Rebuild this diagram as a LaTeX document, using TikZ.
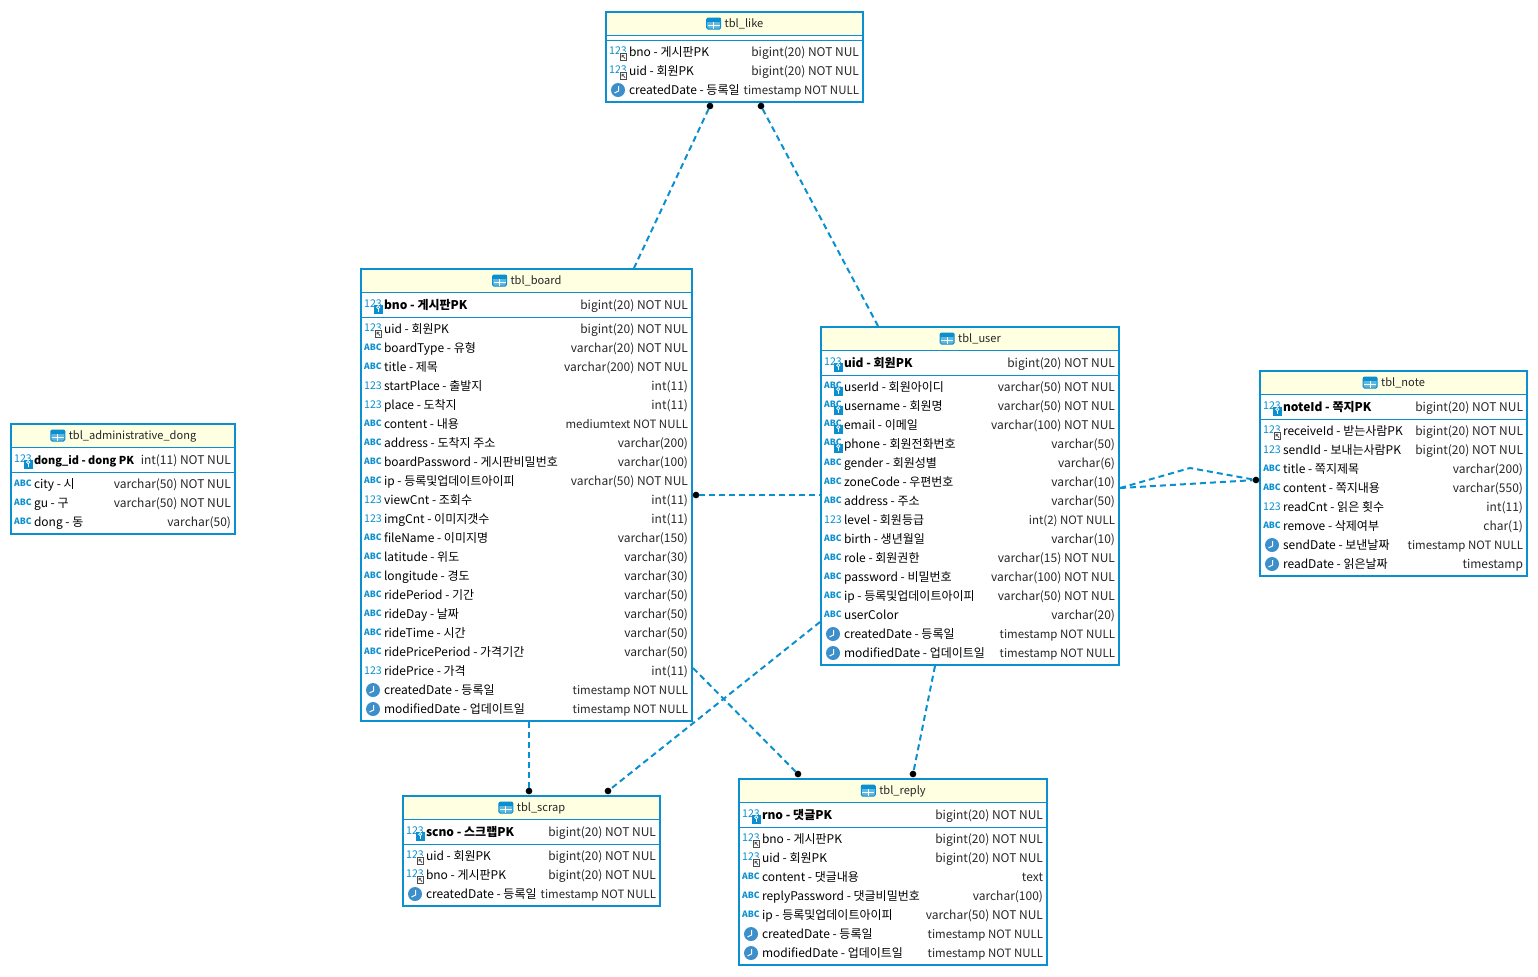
\documentclass[tikz,border=0pt]{standalone}
\usepackage{fontspec}
\setmainfont{Noto Sans CJK KR}
\usepackage{xcolor}
\usetikzlibrary{positioning,calc}

\definecolor{tblblue}{HTML}{0A90D0}
\definecolor{tblhead}{HTML}{FFFFE1}
\definecolor{clockblue}{HTML}{3D8FCB}

\newcommand{\fullnull}[1]{{\fontsize{8.6}{11}\selectfont #1}}
\newcommand{\ertable}[7]{%
    \node[headbox, minimum width={(#4-#2)*0.75pt}] (#1_head) at (#2,#3) {};
    \node[tblbox, minimum width={(#4-#2)*0.75pt}, minimum height={(#5-#3)*0.75pt}] (#1) at (#2,#3) {};
    \node[titletext] (#1_title) at ($(#1.north)+(9.5,12)$) {#6};
    \pic at ($(#1_title.west)+(-11,-0.5)$) {ictable};
    \draw[tblrule] ($(#1.north west)+(0,23)$) -- ($(#1.north east)+(0,23)$);
    \draw[tblrule] ($(#1.north west)+(0,#7)$) -- ($(#1.north east)+(0,#7)$);
}
\newcommand{\erkey}[4]{%
    \pic at ($(#1.north west)+(12,36)$) {#2};
    \node[keytext] (#1_key) at ($(#1.north west)+(23,40)$) {#3};
    \node[typetext] (#1_keytype) at ($(#1.north east)+(-4,40)$) {#4};
}
\newcommand{\ercolumns}[3]{%
    \foreach \ico/\lab/\typ [count=\i] in {#3} {
        \pgfmathsetmacro\yy{#2+19*(\i-1)}
        \edef\doicon{\noexpand\pic at ($(#1.north west)+(12,\yy)$) {\ico};}
        \doicon
        \node[coltext] (#1_col\i) at ($(#1.north west)+(23,\yy+4)$) {\lab};
        \node[typetext] (#1_type\i) at ($(#1.north east)+(-4,\yy+4)$) {\typ};
    }
}

\begin{document}
\begin{tikzpicture}[
        x=0.75pt,y=-0.75pt,
        every node/.style={inner sep=0pt,outer sep=0pt},
        tblbox/.style={rectangle,draw=tblblue,line width=1.5pt,anchor=north west},
        headbox/.style={rectangle,fill=tblhead,minimum height=17.25pt,anchor=north west},
        tblrule/.style={draw=tblblue,line width=0.75pt},
        titletext/.style={font=\fontsize{8.3}{11}\selectfont,text=black!85},
        coltext/.style={font=\fontsize{9}{11}\selectfont,text=black,anchor=base west},
        keytext/.style={font=\fontsize{9}{11}\selectfont\bfseries,text=black,anchor=base west},
        typetext/.style={font=\fontsize{9}{11}\selectfont,text=black!85,anchor=base east},
        icontext/.style={font=\fontsize{8}{9}\selectfont,text=tblblue},
        iconbold/.style={font=\fontsize{6.5}{7}\selectfont\bfseries,text=tblblue},
        fkdot/.style={circle,fill=black,minimum size=5pt},
        relline/.style={draw=tblblue,line width=1.5pt,dash pattern=on 4.5pt off 3pt},
        ictable/.pic={
            \fill[tblblue!65,rounded corners=1pt] (-7,-5.5) rectangle (7,5.5);
            \fill[tblblue] (-7,-5.5) rectangle (7,-2);
            \draw[tblblue,line width=0.75pt,rounded corners=1pt] (-7,-5.5) rectangle (7,5.5);
            \draw[white,line width=0.75pt] (-6,1.5) -- (6,1.5);
            \draw[white,line width=0.75pt] (0,-1.5) -- (0,5);
        },
        icnum/.pic={\node[icontext] at (0,-0.5) {123};},
        icabc/.pic={\node[iconbold] at (0,-0.5) {ABC};},
        ickeybadge/.pic={
            \fill[tblblue] (1,-0.5) rectangle (9.5,8.5);
            \draw[white,line width=0.6pt] (5.2,2.2) circle (1.6);
            \draw[white,line width=0.6pt] (5.2,3.8) -- (5.2,7);
        },
        icpk/.pic={\node[icontext] at (0,-1) {123}; \pic at (0,0) {ickeybadge};},
        icabckey/.pic={\node[iconbold] at (0,-2) {ABC}; \pic at (0,0) {ickeybadge};},
        icfk/.pic={
            \node[icontext] at (0,-1) {123};
            \fill[white] (1,0) rectangle (9.5,8.5);
            \draw[black!70,line width=0.6pt] (2.5,1.5) rectangle (8.5,8);
            \draw[black!70,line width=0.6pt] (7,6.5) -- (4,3.2) (4,5.5) -- (4,3.2) -- (6.3,3.2);
        },
        icclock/.pic={
            \fill[clockblue] (0,0) circle (7);
            \draw[white,line width=0.75pt] (0.5,-4) -- (0.5,1) -- (-3.5,3);
        }
    ]
        \useasboundingbox (0,0) rectangle (1538,976);

        % tables
        \ertable{like}{606}{12}{863}{102}{tbl\_like}{28}
        \ercolumns{like}{40}{icfk/bno - 게시판PK/bigint(20) NOT NUL,
            icfk/uid - 회원PK/bigint(20) NOT NUL,
            icclock/createdDate - 등록일/\fullnull{timestamp NOT NULL}}

        \ertable{board}{361}{269}{692}{721}{tbl\_board}{48}
        \erkey{board}{icpk}{bno - 게시판PK}{bigint(20) NOT NUL}
        \ercolumns{board}{60}{icfk/uid - 회원PK/bigint(20) NOT NUL,
            icabc/boardType - 유형/varchar(20) NOT NUL,
            icabc/title - 제목/varchar(200) NOT NUL,
            icnum/startPlace - 출발지/int(11),
            icnum/place - 도착지/int(11),
            icabc/content - 내용/\fullnull{mediumtext NOT NULL},
            icabc/address - 도착지 주소/varchar(200),
            icabc/boardPassword - 게시판비밀번호/varchar(100),
            icabc/ip - 등록및업데이트아이피/varchar(50) NOT NUL,
            icnum/viewCnt - 조회수/int(11),
            icnum/imgCnt - 이미지갯수/int(11),
            icabc/fileName - 이미지명/varchar(150),
            icabc/latitude - 위도/varchar(30),
            icabc/longitude - 경도/varchar(30),
            icabc/ridePeriod - 기간/varchar(50),
            icabc/rideDay - 날짜/varchar(50),
            icabc/rideTime - 시간/varchar(50),
            icabc/ridePricePeriod - 가격기간/varchar(50),
            icnum/ridePrice - 가격/int(11),
            icclock/createdDate - 등록일/\fullnull{timestamp NOT NULL},
            icclock/modifiedDate - 업데이트일/\fullnull{timestamp NOT NULL}}

        \ertable{user}{821}{327}{1119}{665}{tbl\_user}{48}
        \erkey{user}{icpk}{uid - 회원PK}{bigint(20) NOT NUL}
        \ercolumns{user}{60}{icabckey/userId - 회원아이디/varchar(50) NOT NUL,
            icabckey/username - 회원명/varchar(50) NOT NUL,
            icabckey/email - 이메일/varchar(100) NOT NUL,
            icabckey/phone - 회원전화번호/varchar(50),
            icabc/gender - 회원성별/varchar(6),
            icabc/zoneCode - 우편번호/varchar(10),
            icabc/address - 주소/varchar(50),
            icnum/level - 회원등급/\fullnull{int(2) NOT NULL},
            icabc/birth - 생년월일/varchar(10),
            icabc/role - 회원권한/varchar(15) NOT NUL,
            icabc/password - 비밀번호/varchar(100) NOT NUL,
            icabc/ip - 등록및업데이트아이피/varchar(50) NOT NUL,
            icabc/userColor/varchar(20),
            icclock/createdDate - 등록일/\fullnull{timestamp NOT NULL},
            icclock/modifiedDate - 업데이트일/\fullnull{timestamp NOT NULL}}

        \ertable{note}{1260}{371}{1527}{576}{tbl\_note}{48}
        \erkey{note}{icpk}{noteId - 쪽지PK}{bigint(20) NOT NUL}
        \ercolumns{note}{60}{icfk/receiveId - 받는사람PK/bigint(20) NOT NUL,
            icnum/sendId - 보내는사람PK/bigint(20) NOT NUL,
            icabc/title - 쪽지제목/varchar(200),
            icabc/content - 쪽지내용/varchar(550),
            icnum/readCnt - 읽은 횟수/int(11),
            icabc/remove - 삭제여부/char(1),
            icclock/sendDate - 보낸날짜/\fullnull{timestamp NOT NULL},
            icclock/readDate - 읽은날짜/timestamp}

        \ertable{dong}{11}{424}{235}{534}{tbl\_administrative\_dong}{48}
        \erkey{dong}{icpk}{\fontsize{8.2}{11}\selectfont dong\_id - dong PK}{int(11) NOT NUL}
        \ercolumns{dong}{60}{icabc/city - 시/varchar(50) NOT NUL,
            icabc/gu - 구/varchar(50) NOT NUL,
            icabc/dong - 동/varchar(50)}

        \ertable{scrap}{403}{796}{660}{906}{tbl\_scrap}{48}
        \erkey{scrap}{icpk}{scno - 스크랩PK}{bigint(20) NOT NUL}
        \ercolumns{scrap}{60}{icfk/uid - 회원PK/bigint(20) NOT NUL,
            icfk/bno - 게시판PK/bigint(20) NOT NUL,
            icclock/createdDate - 등록일/\fullnull{timestamp NOT NULL}}

        \ertable{reply}{739}{779}{1047}{965}{tbl\_reply}{48}
        \erkey{reply}{icpk}{rno - 댓글PK}{bigint(20) NOT NUL}
        \ercolumns{reply}{60}{icfk/bno - 게시판PK/bigint(20) NOT NUL,
            icfk/uid - 회원PK/bigint(20) NOT NUL,
            icabc/content - 댓글내용/text,
            icabc/replyPassword - 댓글비밀번호/varchar(100),
            icabc/ip - 등록및업데이트아이피/varchar(50) NOT NUL,
            icclock/createdDate - 등록일/\fullnull{timestamp NOT NULL},
            icclock/modifiedDate - 업데이트일/\fullnull{timestamp NOT NULL}}

        % foreign key ends
        \node[fkdot] (likeBno) at ($(like.south west)+(104,4)$) {};
        \node[fkdot] (likeUid) at ($(like.south west)+(155,4)$) {};
        \node[fkdot] (boardUid) at ($(board.north east)+(4,226)$) {};
        \node[fkdot] (scrapBno) at ($(scrap.north west)+(126,-5)$) {};
        \node[fkdot] (scrapUid) at ($(scrap.north west)+(205,-5)$) {};
        \node[fkdot] (replyBno) at ($(reply.north west)+(59,-5)$) {};
        \node[fkdot] (replyUid) at ($(reply.north west)+(174,-5)$) {};
        \node[fkdot] (noteKeys) at ($(note.north west)+(-4,109)$) {};

        % table sides
        \coordinate (boardTop) at ($(board.north west)+(273,-1)$);
        \coordinate (boardEast) at ($(board.north east)+(1,399)$);
        \coordinate (boardBottom) at ($(board.south west)+(168,1)$);
        \coordinate (userTop) at ($(user.north west)+(57,-1)$);
        \coordinate (userWest) at ($(user.north west)+(-1,168)$);
        \coordinate (userWestLow) at ($(user.north west)+(-1,295)$);
        \coordinate (userBottom) at ($(user.south west)+(114,1)$);
        \coordinate (userEast) at ($(user.north east)+(1,161)$);
        \coordinate (noteBend) at ($(note.north west)+(-70,97)$);

        \draw[relline] (likeBno) -- (boardTop);
        \draw[relline] (likeUid) -- (userTop);
        \draw[relline] (boardUid) -- (userWest);
        \draw[relline] (boardBottom) -- (scrapBno);
        \draw[relline] (userWestLow) -- (scrapUid);
        \draw[relline] (boardEast) -- (replyBno);
        \draw[relline] (userBottom) -- (replyUid);
        \draw[relline] (userEast) -- (noteKeys);
        \draw[relline] (userEast) -- (noteBend) -- (noteKeys);
    \end{tikzpicture}
\end{document}
